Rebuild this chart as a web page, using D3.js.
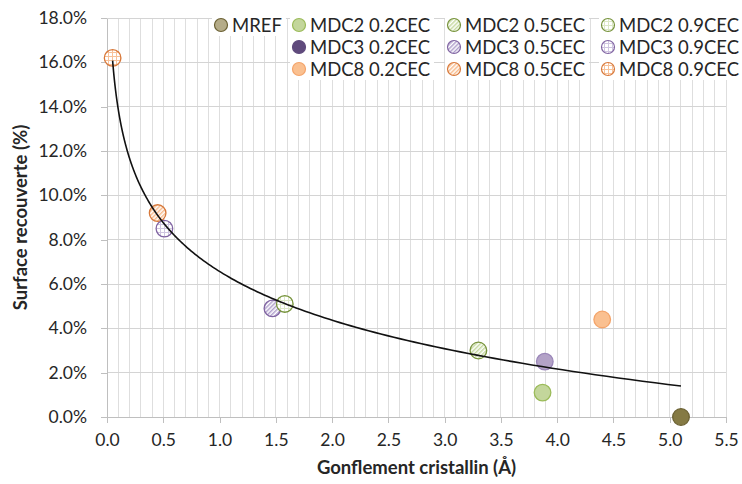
<!DOCTYPE html>
<html>
<head>
<meta charset="utf-8">
<script src="https://cdn.jsdelivr.net/npm/d3@7"></script>
<style>
  html, body { margin: 0; padding: 0; background: #fff; }
  svg { display: block; }
  text { font-family: Lato, "Open Sans", sans-serif; fill: #262626; }
</style>
</head>
<body>
<svg id="chart" width="742" height="484"></svg>
<script>
// ---- data ----
const seriesNames = ["MREF", "MDC2 0.2CEC", "MDC2 0.5CEC", "MDC2 0.9CEC",
  "MDC3 0.2CEC", "MDC3 0.5CEC", "MDC3 0.9CEC",
  "MDC8 0.2CEC", "MDC8 0.5CEC", "MDC8 0.9CEC"];
const xValues = [5.10, 3.87, 3.30, 1.58, 3.89, 1.47, 0.51, 4.40, 0.45, 0.05];
const yValues = [0.0, 1.1, 3.0, 5.1, 2.5, 4.9, 8.5, 4.4, 9.2, 16.2];
const xTicks = [0.0, 0.5, 1.0, 1.5, 2.0, 2.5, 3.0, 3.5, 4.0, 4.5, 5.0, 5.5];
const yTicks = [0, 2, 4, 6, 8, 10, 12, 14, 16, 18];
const xTitle = "Gonflement cristallin (Å)";
const yTitle = "Surface recouverte (%)";

// ---- styles (kept apart from data) ----
const markerStyles = [
  {fill: "#857a44", stroke: "#6b6133", legendFill: "#b5ac88", pattern: null},
  {fill: "#c3d69b", stroke: "#9bbb59", pattern: null},
  {fill: "#ffffff", stroke: "#77933c", pattern: "diag", pc: "#c6d9a0"},
  {fill: "#ffffff", stroke: "#77933c", pattern: "grid", pc: "#dce8c6"},
  {fill: "#b3a2c7", stroke: "#9a86b8", legendFill: "#5f4a7c", legendStroke: "#5f4a7c", pattern: null},
  {fill: "#ffffff", stroke: "#8064a2", pattern: "diag", pc: "#b0a0cc"},
  {fill: "#ffffff", stroke: "#8064a2", pattern: "grid", pc: "#cfc5e0"},
  {fill: "#fac090", stroke: "#f4a46a", pattern: null},
  {fill: "#ffffff", stroke: "#d7783a", pattern: "diag", pc: "#f8bb8c"},
  {fill: "#ffffff", stroke: "#d7783a", pattern: "grid", pc: "#f8c29a"}
];
const legendCells = [[0,0],[0,1],[0,2],[0,3],[1,1],[1,2],[1,3],[2,1],[2,2],[2,3]];

const svg = d3.select("#chart");
const margin = {left: 107, right: 16, top: 18, bottom: 67};
const W = 742, H = 484;

const x = d3.scaleLinear().domain([0, 5.5]).range([margin.left, W - margin.right]);
const y = d3.scaleLinear().domain([0, 18]).range([H - margin.bottom, margin.top]);

// patterns
const defs = svg.append("defs");
markerStyles.forEach((s, i) => {
  if (!s.pattern) return;
  const p = defs.append("pattern").attr("id", "pat" + i)
    .attr("patternUnits", "userSpaceOnUse");
  if (s.pattern === "diag") {
    p.attr("width", 3).attr("height", 3).attr("patternTransform", "rotate(45)");
    p.append("rect").attr("width", 3).attr("height", 3).attr("fill", "#fff");
    p.append("rect").attr("x", 0).attr("y", 0).attr("width", 1.5).attr("height", 3).attr("fill", s.pc);
  } else {
    p.attr("width", 4).attr("height", 4);
    p.append("rect").attr("width", 4).attr("height", 4).attr("fill", "#fff");
    p.append("line").attr("x1", 0).attr("x2", 4).attr("y1", 0.5).attr("y2", 0.5)
      .attr("stroke", s.pc).attr("stroke-width", 1);
    p.append("line").attr("y1", 0).attr("y2", 4).attr("x1", 0.5).attr("x2", 0.5)
      .attr("stroke", s.pc).attr("stroke-width", 1);
  }
});
const fillOf = (s, i) => s.pattern ? `url(#pat${i})` : s.fill;

// vertical minor gridlines
const minorX = d3.range(1, 56).map(d => d / 10);
svg.append("g").selectAll("line").data(minorX).join("line")
  .attr("x1", d => x(d)).attr("x2", d => x(d))
  .attr("y1", y(0)).attr("y2", y(18))
  .attr("stroke", "#dedede").attr("stroke-width", 1).attr("shape-rendering", "crispEdges");
// horizontal gridlines
svg.append("g").selectAll("line").data(yTicks.slice(1)).join("line")
  .attr("x1", x(0)).attr("x2", x(5.5))
  .attr("y1", d => y(d)).attr("y2", d => y(d))
  .attr("stroke", "#d4d4d4").attr("stroke-width", 1).attr("shape-rendering", "crispEdges");

// axes
const xAxis = d3.axisBottom(x).tickValues(xTicks).tickFormat(d3.format(".1f")).tickSizeInner(6).tickSizeOuter(0).tickPadding(11);
const gx = svg.append("g").attr("transform", `translate(0,${y(0)})`).call(xAxis);
gx.select(".domain").attr("stroke", "#bfbfbf").attr("shape-rendering", "crispEdges");
gx.selectAll(".tick line").attr("stroke", "#bfbfbf").attr("shape-rendering", "crispEdges");
gx.selectAll(".tick text").style("font-family", "Lato, sans-serif").style("font-size", "17.5px").attr("fill", "#262626");

const yAxis = d3.axisLeft(y).tickValues(yTicks).tickFormat(d => d3.format(".1f")(d) + "%").tickSizeInner(6).tickSizeOuter(0).tickPadding(14);
const gy = svg.append("g").attr("transform", `translate(${x(0)},0)`).call(yAxis);
gy.select(".domain").attr("stroke", "#bfbfbf").attr("shape-rendering", "crispEdges");
gy.selectAll(".tick line").attr("stroke", "#bfbfbf").attr("shape-rendering", "crispEdges");
gy.selectAll(".tick text").style("font-family", "Lato, sans-serif").style("font-size", "17.5px").attr("fill", "#262626");

// axis titles
svg.append("text").attr("x", (x(0) + x(5.5)) / 2).attr("y", 474)
  .attr("text-anchor", "middle").style("font-size", "18.5px").style("font-weight", "bold").text(xTitle);
svg.append("text").attr("transform", `translate(27,${(y(0) + y(18)) / 2}) rotate(-90)`)
  .attr("text-anchor", "middle").style("font-size", "18.5px").style("font-weight", "bold").text(yTitle);

// legend
const legCols = [221, 299, 454, 608];
const legRows = [25, 47, 69];
const leg = svg.append("g");
seriesNames.forEach((name, i) => {
  const [r, c] = legendCells[i];
  const g = leg.append("g").attr("transform", `translate(${legCols[c]},${legRows[r]})`);
  const bg = g.append("rect").attr("fill", "#fff");
  const s = markerStyles[i];
  g.append("circle").attr("r", 6.5)
    .attr("fill", s.pattern ? fillOf(s, i) : (s.legendFill || s.fill))
    .attr("stroke", s.legendStroke || s.stroke).attr("stroke-width", 1.2);
  const t = g.append("text").attr("x", 11).attr("y", 6.5).style("font-size", "18.5px").text(name);
  const w = t.node().getComputedTextLength();
  bg.attr("x", -9).attr("y", -11).attr("width", w + 24).attr("height", 22);
});

// points (drawn in reverse series order)
const idx = d3.range(seriesNames.length).reverse();
svg.append("g").selectAll("circle").data(idx).join("circle")
  .attr("cx", i => x(xValues[i])).attr("cy", i => y(yValues[i])).attr("r", 8.3)
  .attr("fill", i => fillOf(markerStyles[i], i))
  .attr("stroke", i => markerStyles[i].stroke).attr("stroke-width", 1.3);

// logarithmic trendline (least squares on ln x)
const lx = xValues.map(Math.log);
const mx = d3.mean(lx), my = d3.mean(yValues);
const slope = d3.sum(lx, (v, k) => (v - mx) * (yValues[k] - my)) / d3.sum(lx, v => (v - mx) ** 2);
const icpt = my - slope * mx;
const [x0, x1] = d3.extent(xValues);
const curveXs = d3.range(0, 201).map(k => x0 * Math.pow(x1 / x0, k / 200));
svg.append("path").datum(curveXs)
  .attr("d", d3.line().x(d => x(d)).y(d => y(icpt + slope * Math.log(d))).curve(d3.curveLinear))
  .attr("fill", "none").attr("stroke", "#111").attr("stroke-width", 1.6);
</script>
</body>
</html>
